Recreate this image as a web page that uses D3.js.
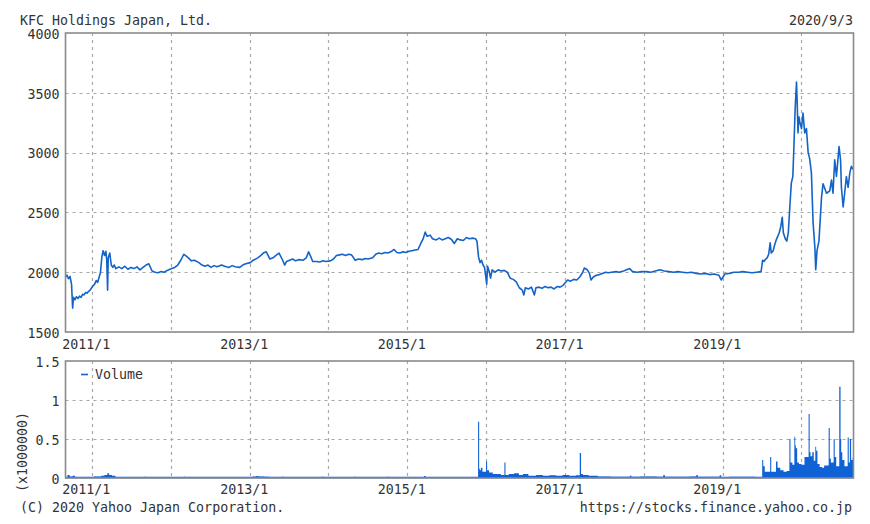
<!DOCTYPE html>
<html><head><meta charset="utf-8">
<script src="https://cdn.jsdelivr.net/npm/d3@7"></script>
<style>
body{margin:0;background:#fff}
svg{display:block}
text{font-family:"DejaVu Sans Mono","Liberation Mono",monospace;font-size:13.3px;fill:#333}
</style></head><body><svg id="c" width="870" height="524"></svg>
<script>
// ---------- data ----------
const title = "KFC Holdings Japan, Ltd.";
const dateLabel = "2020/9/3";
const footerLeft = "(C) 2020 Yahoo Japan Corporation.";
const footerRight = "https://stocks.finance.yahoo.co.jp";
const volumeLegend = "Volume";
const volumeUnit = "(x1000000)";

const priceTicks = [1500, 2000, 2500, 3000, 3500, 4000];
const volumeTicks = [0, 0.5, 1, 1.5];
const volumeTickLabels = ["0", "0.5", "1", "1.5"];
const gridYears = ["2011-01-01","2012-01-01","2013-01-01","2014-01-01","2015-01-01","2016-01-01","2017-01-01","2018-01-01","2019-01-01","2020-01-01"];
const labelYears = ["2011-01-01","2013-01-01","2015-01-01","2017-01-01","2019-01-01"];
const xTickLabels = ["2011/1","2013/1","2015/1","2017/1","2019/1"];

const priceDates = ["2010-09-01","2010-09-08","2010-09-15","2010-09-22","2010-09-29","2010-10-04","2010-10-08","2010-10-15","2010-10-22","2010-10-29","2010-11-05","2010-11-12","2010-11-19","2010-11-26","2010-12-03","2010-12-10","2010-12-17","2010-12-24","2011-01-04","2011-01-14","2011-01-21","2011-01-28","2011-02-04","2011-02-10","2011-02-16","2011-02-22","2011-03-01","2011-03-07","2011-03-11","2011-03-15","2011-03-18","2011-03-25","2011-04-01","2011-04-08","2011-04-15","2011-04-22","2011-05-06","2011-05-20","2011-06-03","2011-06-17","2011-07-01","2011-07-15","2011-07-29","2011-08-12","2011-08-26","2011-09-09","2011-09-22","2011-10-07","2011-10-21","2011-11-04","2011-11-18","2011-12-02","2011-12-16","2012-01-06","2012-01-20","2012-02-03","2012-02-17","2012-03-02","2012-03-09","2012-03-23","2012-04-06","2012-04-20","2012-05-11","2012-05-25","2012-06-08","2012-06-22","2012-07-06","2012-07-20","2012-08-03","2012-08-24","2012-09-07","2012-09-28","2012-10-12","2012-10-26","2012-11-16","2012-11-30","2012-12-14","2013-01-04","2013-01-18","2013-02-08","2013-02-22","2013-03-05","2013-03-19","2013-04-05","2013-04-19","2013-05-03","2013-05-17","2013-06-03","2013-06-12","2013-06-21","2013-07-05","2013-07-19","2013-08-02","2013-08-16","2013-09-06","2013-09-20","2013-10-01","2013-10-11","2013-10-20","2013-11-08","2013-11-22","2013-12-06","2013-12-20","2014-01-10","2014-01-24","2014-02-07","2014-02-21","2014-03-07","2014-03-21","2014-04-04","2014-04-18","2014-05-05","2014-05-20","2014-06-06","2014-06-20","2014-07-04","2014-07-25","2014-08-08","2014-08-22","2014-09-05","2014-09-19","2014-10-03","2014-10-17","2014-11-01","2014-11-14","2014-11-28","2014-12-12","2014-12-26","2015-01-09","2015-01-23","2015-02-06","2015-02-20","2015-03-06","2015-03-16","2015-03-25","2015-04-03","2015-04-17","2015-04-28","2015-05-15","2015-05-29","2015-06-12","2015-06-26","2015-07-10","2015-07-24","2015-08-07","2015-08-21","2015-09-04","2015-09-18","2015-10-02","2015-10-16","2015-10-30","2015-11-13","2015-11-20","2015-11-27","2015-12-04","2015-12-11","2015-12-18","2015-12-25","2016-01-04","2016-01-08","2016-01-15","2016-01-22","2016-01-29","2016-02-12","2016-02-26","2016-03-11","2016-03-25","2016-04-08","2016-04-22","2016-05-06","2016-05-20","2016-06-03","2016-06-17","2016-06-24","2016-07-01","2016-07-15","2016-07-29","2016-08-12","2016-08-19","2016-09-02","2016-09-16","2016-09-30","2016-10-14","2016-10-28","2016-11-11","2016-11-25","2016-12-09","2016-12-23","2017-01-13","2017-01-27","2017-02-10","2017-02-24","2017-03-10","2017-03-24","2017-03-31","2017-04-14","2017-04-24","2017-05-01","2017-05-12","2017-05-26","2017-06-09","2017-06-23","2017-07-07","2017-07-21","2017-08-04","2017-08-25","2017-09-08","2017-09-29","2017-10-13","2017-10-27","2017-11-10","2017-12-01","2017-12-22","2018-01-12","2018-02-02","2018-02-23","2018-03-16","2018-04-06","2018-04-27","2018-05-18","2018-06-08","2018-06-29","2018-07-20","2018-08-10","2018-08-31","2018-09-21","2018-10-12","2018-11-02","2018-11-23","2018-12-14","2018-12-25","2019-01-11","2019-02-01","2019-02-22","2019-03-15","2019-04-05","2019-04-26","2019-05-17","2019-06-07","2019-06-28","2019-07-05","2019-07-12","2019-07-19","2019-07-26","2019-08-02","2019-08-09","2019-08-14","2019-08-23","2019-08-30","2019-09-06","2019-09-13","2019-09-20","2019-09-27","2019-10-04","2019-10-09","2019-10-18","2019-10-25","2019-11-01","2019-11-08","2019-11-15","2019-11-22","2019-11-26","2019-12-03","2019-12-09","2019-12-12","2019-12-16","2019-12-20","2019-12-24","2020-01-01","2020-01-08","2020-01-16","2020-01-24","2020-02-01","2020-02-08","2020-02-16","2020-02-24","2020-03-03","2020-03-07","2020-03-13","2020-03-22","2020-04-03","2020-04-10","2020-04-26","2020-05-11","2020-05-19","2020-05-26","2020-06-03","2020-06-11","2020-06-23","2020-06-30","2020-07-04","2020-07-12","2020-07-19","2020-07-27","2020-08-04","2020-08-12","2020-08-19","2020-08-28"];
const priceValues = [1960,1975,1945,1965,1900,1700,1790,1770,1795,1780,1800,1790,1815,1810,1830,1825,1840,1850,1880,1900,1930,1915,1960,2000,2120,2180,2140,2175,2100,1850,2120,2160,2060,2040,2060,2030,2045,2030,2050,2025,2040,2030,2045,2020,2040,2060,2070,2010,2000,1995,2005,2000,2015,2030,2040,2060,2100,2150,2140,2120,2095,2100,2080,2060,2050,2060,2040,2055,2045,2060,2050,2040,2055,2045,2040,2060,2070,2080,2100,2120,2140,2160,2170,2110,2120,2140,2160,2100,2060,2090,2100,2110,2095,2105,2100,2120,2170,2130,2090,2090,2085,2095,2090,2095,2110,2140,2145,2150,2140,2150,2145,2100,2110,2105,2115,2110,2120,2150,2160,2155,2165,2160,2170,2190,2165,2160,2170,2165,2175,2180,2185,2190,2245,2280,2335,2300,2310,2280,2270,2285,2270,2280,2290,2275,2240,2280,2270,2265,2290,2280,2285,2280,2260,2130,2080,2100,2060,2040,1900,2050,2010,1950,2020,2000,2020,2010,2015,2000,1950,1940,1920,1870,1850,1810,1870,1860,1875,1810,1870,1875,1865,1880,1870,1875,1860,1880,1875,1890,1935,1925,1940,1935,1960,2000,2035,2020,1990,1935,1960,1975,1980,1990,2000,1995,2000,2005,2000,2010,2020,2030,2005,2000,2005,2005,2000,2010,2020,2010,2005,2000,2005,2000,1995,2000,1990,1985,1990,1980,1985,1975,1935,1985,1990,2000,2000,2005,2000,1995,2000,2005,2100,2090,2110,2120,2150,2245,2160,2180,2230,2270,2300,2330,2380,2460,2330,2280,2260,2330,2545,2745,2800,3000,3380,3590,3430,3165,3300,3260,3200,3330,3165,3200,3000,2950,2830,2410,2210,2020,2180,2260,2630,2740,2660,2680,2770,2660,2940,2800,3050,2940,2710,2545,2660,2800,2710,2830,2885,2860];

const volumeDates = ["2010-09-01","2010-09-10","2010-09-20","2010-10-04","2010-10-15","2010-12-20","2011-01-10","2011-02-14","2011-02-28","2011-03-14","2011-03-22","2011-04-05","2011-04-20","2011-06-01","2011-09-01","2011-09-08","2011-12-01","2012-03-01","2012-03-08","2012-06-01","2012-10-01","2012-10-06","2013-01-15","2013-02-01","2013-02-10","2013-03-10","2013-04-01","2013-06-01","2013-06-08","2013-09-01","2013-12-01","2013-12-08","2014-03-01","2014-05-01","2014-05-08","2014-08-01","2014-10-01","2014-10-08","2014-12-01","2015-02-01","2015-03-20","2015-03-27","2015-06-01","2015-09-01","2015-11-01","2015-11-25","2015-11-30","2015-12-03","2015-12-08","2015-12-15","2016-01-01","2016-01-06","2016-01-15","2016-02-01","2016-03-10","2016-03-26","2016-03-31","2016-04-15","2016-05-10","2016-06-01","2016-06-20","2016-07-15","2016-08-20","2016-09-20","2016-10-20","2016-11-20","2016-12-20","2017-01-20","2017-02-20","2017-03-10","2017-03-16","2017-03-25","2017-04-20","2017-06-01","2017-08-01","2017-10-28","2017-11-04","2017-12-15","2018-03-01","2018-04-01","2018-04-08","2018-06-01","2018-08-01","2018-09-01","2018-09-08","2018-11-01","2018-12-18","2018-12-25","2019-02-01","2019-04-01","2019-06-01","2019-07-03","2019-07-08","2019-07-15","2019-08-09","2019-08-14","2019-09-05","2019-09-12","2019-09-25","2019-10-10","2019-10-25","2019-11-06","2019-11-11","2019-11-20","2019-11-29","2019-12-03","2019-12-06","2019-12-12","2019-12-20","2020-01-01","2020-01-15","2020-02-03","2020-02-08","2020-02-12","2020-02-20","2020-02-27","2020-03-05","2020-03-09","2020-03-15","2020-03-25","2020-04-05","2020-04-15","2020-05-06","2020-05-11","2020-05-16","2020-05-29","2020-06-03","2020-06-10","2020-06-24","2020-06-30","2020-07-03","2020-07-08","2020-07-18","2020-08-02","2020-08-07","2020-08-12","2020-08-18","2020-08-25"];
const volumeValues = [0.012,0.04,0.02,0.03,0.01,0.012,0.02,0.03,0.04,0.06,0.04,0.03,0.01,0.006,0.015,0.006,0.006,0.015,0.006,0.008,0.012,0.006,0.02,0.025,0.02,0.015,0.008,0.015,0.006,0.01,0.015,0.006,0.01,0.015,0.008,0.01,0.015,0.008,0.01,0.012,0.025,0.01,0.012,0.01,0.012,0.72,0.12,0.1,0.13,0.08,0.21,0.1,0.07,0.05,0.04,0.2,0.04,0.05,0.06,0.04,0.05,0.03,0.04,0.03,0.035,0.03,0.04,0.03,0.035,0.32,0.05,0.04,0.03,0.02,0.015,0.03,0.015,0.02,0.015,0.04,0.015,0.015,0.02,0.04,0.015,0.015,0.035,0.012,0.015,0.015,0.012,0.23,0.15,0.08,0.27,0.08,0.21,0.13,0.1,0.08,0.09,0.5,0.2,0.17,0.53,0.42,0.38,0.2,0.18,0.17,0.27,0.82,0.33,0.28,0.33,0.22,0.4,0.35,0.18,0.14,0.13,0.16,0.64,0.25,0.2,0.5,0.27,0.15,1.17,0.5,0.33,0.23,0.15,0.52,0.2,0.5,0.23,0.26,0.2];

// ---------- layout ----------
const svg = d3.select("#c");
const parse = d3.utcParse("%Y-%m-%d");
const L = 65.5, R = 853.5;
const topY0 = 332, topY1 = 33, botY0 = 478, botY1 = 361;
const blue = "#1464c8", frame = "#8a8a8a", grid = "#a8a8a8";

const x = d3.scaleUtc().domain([parse("2010-09-01"), parse("2020-08-29")]).range([L, R]);
const yP = d3.scaleLinear().domain([1500, 4000]).range([topY0, topY1]);
const yV = d3.scaleLinear().domain([0, 1.5]).range([botY0, botY1]);

svg.append("rect").attr("width", 870).attr("height", 524).attr("fill", "#fff");

function gridFor(y, yTicks, y0, y1) {
  const g = svg.append("g").attr("stroke", grid).attr("stroke-width", 1.2).attr("stroke-dasharray", "3,4");
  g.selectAll("line.v").data(gridYears.map(parse)).join("line")
    .attr("x1", d => Math.round(x(d)) + 0.5).attr("x2", d => Math.round(x(d)) + 0.5)
    .attr("y1", y1).attr("y2", y0);
  g.selectAll("line.h").data(yTicks).join("line")
    .attr("x1", L).attr("x2", R)
    .attr("y1", d => Math.round(y(d)) + 0.5).attr("y2", d => Math.round(y(d)) + 0.5);
}
gridFor(yP, priceTicks.slice(1, -1), topY0, topY1);
gridFor(yV, volumeTicks.slice(1, -1), botY0, botY1);

// volume
const vData = volumeDates.map((d, i) => ({ d: parse(d), v: volumeValues[i] }));
vData.push({ d: x.domain()[1], v: volumeValues[volumeValues.length - 1] });
svg.append("path").datum(vData)
  .attr("fill", "#0f62d6")
  .attr("d", d3.area().curve(d3.curveStepAfter).x(p => x(p.d)).y0(botY0).y1(p => yV(p.v)));
svg.append("line").attr("x1", L).attr("x2", R).attr("y1", botY0 - 0.5).attr("y2", botY0 - 0.5)
  .attr("stroke", "#0f62d6").attr("stroke-width", 1.5);

// price
const pData = priceDates.map((d, i) => ({ d: parse(d), v: priceValues[i] }));
svg.append("path").datum(pData)
  .attr("fill", "none").attr("stroke", blue).attr("stroke-width", 1.6).attr("stroke-linejoin", "round")
  .attr("d", d3.line().x(p => x(p.d)).y(p => yP(p.v)));

// frames
svg.append("rect").attr("x", L).attr("y", topY1).attr("width", R - L).attr("height", topY0 - topY1)
  .attr("fill", "none").attr("stroke", frame).attr("stroke-width", 1.6);
svg.append("rect").attr("x", L).attr("y", botY1).attr("width", R - L).attr("height", botY0 - botY1)
  .attr("fill", "none").attr("stroke", frame).attr("stroke-width", 1.6);

// axes
function yAxis(scale, ticks, fmt) {
  const g = svg.append("g").attr("transform", `translate(${L - 6},0)`)
    .call(d3.axisLeft(scale).tickValues(ticks).tickSize(0).tickPadding(0).tickFormat(fmt));
  g.select(".domain").remove();
  g.selectAll("text").attr("font-family", null).attr("font-size", null).attr("fill", null).attr("dy", "0.4em");
}
yAxis(yP, priceTicks, d => String(d));
yAxis(yV, volumeTicks, (d, i) => volumeTickLabels[i]);

function xAxis(yPos) {
  const g = svg.append("g").attr("transform", `translate(0,${yPos})`)
    .call(d3.axisBottom(x).tickValues(labelYears.map(parse)).tickSize(0).tickPadding(0).tickFormat((d, i) => xTickLabels[i]));
  g.select(".domain").remove();
  g.selectAll("text").attr("font-family", null).attr("font-size", null).attr("fill", null).attr("dy", null).attr("dx", -6);
}
xAxis(349);
xAxis(494);

// titles
svg.append("text").attr("x", 20).attr("y", 25).text(title);
svg.append("text").attr("x", 853).attr("y", 25).attr("text-anchor", "end").text(dateLabel);
svg.append("text").attr("x", 20).attr("y", 512).text(footerLeft);
svg.append("text").attr("x", 852).attr("y", 512).attr("text-anchor", "end").text(footerRight);
svg.append("text").attr("transform", "translate(27,452) rotate(-90)").attr("text-anchor", "middle").text(volumeUnit);

// legend
svg.append("line").attr("x1", 81).attr("x2", 88).attr("y1", 374.5).attr("y2", 374.5).attr("stroke", blue).attr("stroke-width", 1.6);
svg.append("text").attr("x", 95).attr("y", 379).text(volumeLegend);
</script></body></html>
